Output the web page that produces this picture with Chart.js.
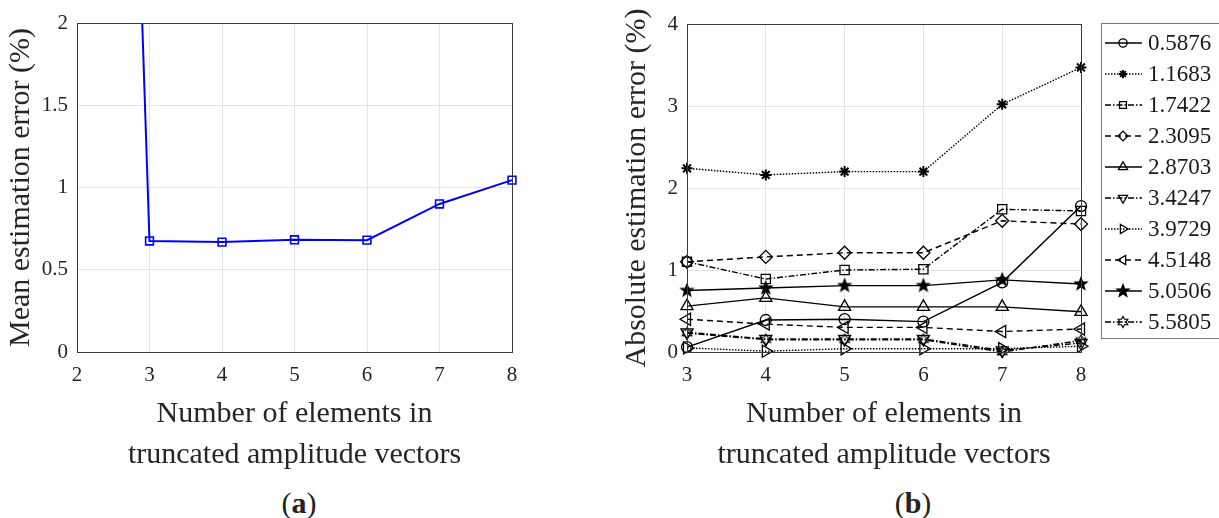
<!DOCTYPE html>
<html>
<head>
<meta charset="utf-8">
<title>Estimation error vs truncation</title>
<script src="https://cdn.jsdelivr.net/npm/chart.js@4.4.1/dist/chart.umd.min.js"></script>
<style>
  body { margin: 0; background: #fff; width: 1219px; height: 518px; position: relative; overflow: hidden; font-family: "Liberation Serif", "DejaVu Serif", serif; }
  #boxA { position: absolute; left: 0; top: 0; width: 600px; height: 480px; }
  #boxB { position: absolute; left: 600px; top: 0; width: 619px; height: 480px; }
  .cap { position: absolute; top: 487px; font-size: 30px; line-height: 32px; color: #222; transform: translateX(-50%); }
</style>
</head>
<body>
<div id="boxA"><canvas id="chartA" width="600" height="480"></canvas></div>
<div id="boxB"><canvas id="chartB" width="619" height="480"></canvas></div>
<div class="cap" style="left:299px">(<b>a</b>)</div>
<div class="cap" style="left:913px">(<b>b</b>)</div>

<script>
// (a) mean error
const xLeft = [2, 3, 4, 5, 6, 7, 8];
const meanError = [13.9, 0.675, 0.668, 0.682, 0.68, 0.9, 1.045];
const yTicksLeft = [0, 0.5, 1, 1.5, 2];

// (b) absolute error per amplitude
const xRight = [3, 4, 5, 6, 7, 8];
const seriesNames = ["0.5876", "1.1683", "1.7422", "2.3095", "2.8703",
                     "3.4247", "3.9729", "4.5148", "5.0506", "5.5805"];
const err0 = [0.06, 0.39, 0.40, 0.37, 0.85, 1.78];
const err1 = [2.24, 2.16, 2.20, 2.20, 3.02, 3.47];
const err2 = [1.10, 0.89, 1.00, 1.01, 1.74, 1.72];
const err3 = [1.10, 1.16, 1.21, 1.21, 1.60, 1.56];
const err4 = [0.56, 0.66, 0.55, 0.55, 0.55, 0.49];
const err5 = [0.24, 0.16, 0.16, 0.16, 0.02, 0.11];
const err6 = [0.05, 0.01, 0.04, 0.04, 0.04, 0.07];
const err7 = [0.40, 0.34, 0.30, 0.30, 0.25, 0.28];
const err8 = [0.75, 0.78, 0.81, 0.81, 0.88, 0.83];
const err9 = [0.23, 0.15, 0.15, 0.15, 0.00, 0.14];
const yTicksRight = [0, 1, 2, 3, 4];

const serif = "Liberation Serif";
const textColor = "#262626";
const gridColor = "#e4e4e4";
const none = "rgba(0,0,0,0)";

function starImage(n, outer, inner, filled) {
  const c = document.createElement("canvas");
  const s = Math.ceil(outer * 2 + 3);
  c.width = s; c.height = s;
  const g = c.getContext("2d");
  g.translate(s / 2, s / 2);
  g.beginPath();
  for (let k = 0; k < n * 2; k++) {
    const r = k % 2 ? inner : outer;
    const t = -Math.PI / 2 + k * Math.PI / n;
    g.lineTo(r * Math.cos(t), r * Math.sin(t));
  }
  g.closePath();
  g.lineWidth = 1.2;
  g.strokeStyle = "#000";
  if (filled) { g.fillStyle = "#000"; g.fill(); }
  g.stroke();
  return c;
}
const pentagram = starImage(5, 6.5, 2.7, true);
const hexagram = starImage(6, 5.5, 3.2, false);

// box round the plot area, like matlab
const axesBox = {
  id: "axesBox",
  afterDatasetsDraw(chart) {
    const a = chart.chartArea, ctx = chart.ctx;
    ctx.save();
    ctx.strokeStyle = "#3a3a3a";
    ctx.lineWidth = 1;
    ctx.strokeRect(Math.round(a.left) + 0.5, Math.round(a.top) + 0.5,
                   Math.round(a.right - a.left), Math.round(a.bottom - a.top));
    ctx.restore();
  }
};

const legendBox = {
  id: "legendBox",
  afterDraw(chart) {
    const ctx = chart.ctx, a = chart.chartArea;
    const left = a.right + 20, top = 23;
    ctx.save();
    ctx.fillStyle = "#fff";
    ctx.fillRect(left, top, 125, 315);
    ctx.strokeStyle = "#777";
    ctx.lineWidth = 1;
    ctx.strokeRect(left + 0.5, top + 0.5, 125, 315);
    chart.data.datasets.forEach((ds, i) => {
      const y = top + 20 + i * 31;
      ctx.strokeStyle = "#000";
      ctx.lineWidth = ds.borderWidth;
      ctx.setLineDash(ds.borderDash || []);
      ctx.beginPath();
      ctx.moveTo(left + 4, y);
      ctx.lineTo(left + 41, y);
      ctx.stroke();
      ctx.setLineDash([]);
      ctx.fillStyle = ds.pointBackgroundColor;
      ctx.lineWidth = ds.pointBorderWidth;
      Chart.helpers.drawPoint(ctx, {
        pointStyle: ds.pointStyle,
        rotation: ds.pointRotation || 0,
        radius: ds.pointRadius * 0.75,
        borderWidth: ds.pointBorderWidth
      }, left + 22, y);
      ctx.fillStyle = "#1a1a1a";
      ctx.font = "23px '" + serif + "'";
      ctx.textBaseline = "middle";
      ctx.fillText(ds.label, left + 47, y + 1);
    });
    ctx.restore();
  }
};

function fixedScale(size, dir) {
  return function (s) { if (dir === "w") s.width = size; else s.height = size; };
}

function tickOpts(list) {
  return {
    font: { family: serif, size: 21 },
    color: textColor,
    callback: (v) => (list.includes(v) ? String(v) : ""),
  };
}

function toXY(xs, ys) {
  return xs.map((x, i) => ({ x: x, y: ys[i] }));
}

Chart.defaults.font.family = serif;

const xTitle = {
  display: true,
  text: ["Number of elements in", "truncated amplitude vectors"],
  font: { family: serif, size: 30, lineHeight: "41px" },
  color: textColor,
  padding: { top: 0, bottom: 4 },
};

// ---------- chart (a)
new Chart(document.getElementById("chartA"), {
  type: "line",
  data: {
    datasets: [{
      label: "mean",
      data: toXY(xLeft, meanError),
      borderColor: "#0000ff",
      borderWidth: 2,
      pointStyle: "rect",
      pointRadius: 5.5,
      pointBorderWidth: 1.6,
      pointBorderColor: "#0000ff",
      pointBackgroundColor: none,
      tension: 0,
      clip: { left: 8, top: 0, right: 8, bottom: 8 },
    }],
  },
  options: {
    responsive: false,
    animation: false,
    layout: { padding: { top: 23, right: 88, left: 0, bottom: 0 } },
    plugins: { legend: { display: false }, tooltip: { enabled: false } },
    scales: {
      x: {
        type: "linear", min: 2, max: 8,
        afterFit: fixedScale(480 - 352, "h"),
        grid: { color: gridColor, drawTicks: false },
        border: { display: false },
        ticks: Object.assign(tickOpts(xLeft), { stepSize: 1, padding: 11 }),
        title: xTitle,
      },
      y: {
        min: 0, max: 2,
        afterFit: fixedScale(77, "w"),
        grid: { color: gridColor, drawTicks: false },
        border: { display: false },
        ticks: Object.assign(tickOpts(yTicksLeft), { stepSize: 0.5, padding: 9 }),
        title: {
          display: true,
          text: "Mean estimation error (%)",
          font: { family: serif, size: 30 },
          color: textColor,
          padding: { top: 3, bottom: 0 },
        },
      },
    },
  },
  plugins: [axesBox],
});

// ---------- chart (b)
const rightSeries = [err0, err1, err2, err3, err4, err5, err6, err7, err8, err9];
const styles = [
  { dash: [],           point: "circle",   rot: 0,   r: 5.5, fill: none },
  { dash: [1.5, 1.5],   point: "star",     rot: 0,   r: 5.5, fill: none, pw: 2 },
  { dash: [6, 2, 1.5, 2], point: "rect",   rot: 0,   r: 6.5, fill: none },
  { dash: [6, 4],       point: "rectRot",  rot: 0,   r: 6.5, fill: none },
  { dash: [],           point: "triangle", rot: 0,   r: 7,   fill: none },
  { dash: [6, 2, 1.5, 2], point: "triangle", rot: 180, r: 7, fill: none },
  { dash: [1.5, 1.5],   point: "triangle", rot: 90,  r: 7,   fill: none },
  { dash: [6, 4],       point: "triangle", rot: 270, r: 7,   fill: none },
  { dash: [],           point: pentagram,  rot: 0,   r: 7,   fill: none },
  { dash: [6, 2, 1.5, 2], point: hexagram, rot: 0,   r: 6,   fill: none },
];

new Chart(document.getElementById("chartB"), {
  type: "line",
  data: {
    datasets: rightSeries.map((vals, i) => ({
      label: seriesNames[i],
      data: toXY(xRight, vals),
      borderColor: "#000",
      borderWidth: 1.4,
      borderDash: styles[i].dash,
      pointStyle: styles[i].point,
      pointRotation: styles[i].rot,
      pointRadius: styles[i].r,
      pointBorderWidth: styles[i].pw || 1.3,
      pointBorderColor: "#000",
      pointBackgroundColor: styles[i].fill,
      tension: 0,
      clip: false,
    })),
  },
  options: {
    responsive: false,
    animation: false,
    layout: { padding: { top: 24, right: 619 - 481, left: 0, bottom: 0 } },
    plugins: { legend: { display: false }, tooltip: { enabled: false } },
    scales: {
      x: {
        type: "linear", min: 3, max: 8,
        afterFit: fixedScale(480 - 352, "h"),
        grid: { color: gridColor, drawTicks: false },
        border: { display: false },
        ticks: Object.assign(tickOpts(xRight), { stepSize: 1, padding: 11 }),
        title: xTitle,
      },
      y: {
        min: 0, max: 4,
        afterFit: fixedScale(87, "w"),
        grid: { color: gridColor, drawTicks: false },
        border: { display: false },
        ticks: Object.assign(tickOpts(yTicksRight), { stepSize: 1, padding: 9 }),
        title: {
          display: true,
          text: "Absolute estimation error (%)",
          font: { family: serif, size: 30 },
          color: textColor,
          padding: { top: 19, bottom: 0 },
        },
      },
    },
  },
  plugins: [axesBox, legendBox],
});
</script>
</body>
</html>
